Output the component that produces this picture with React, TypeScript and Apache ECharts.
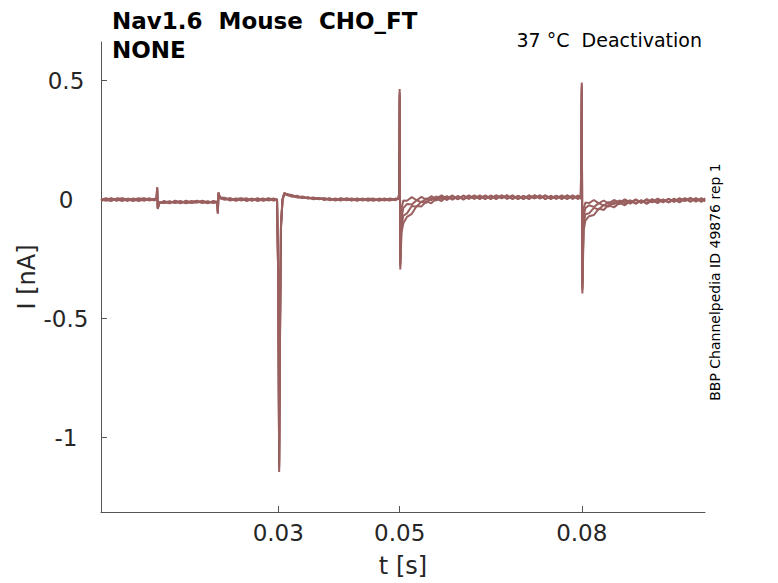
import React, { useEffect, useRef } from "react";
import * as echarts from "echarts";

// sample times in milliseconds (shared by all sweeps)
const timeMs = [
  0.8, 1.6, 2.5, 3.4, 4.3, 5.2, 6.1, 7.0, 7.9, 8.8, 9.6,
  9.95, 10.05, 10.15, 10.4,
  11.2, 12.1, 13.0, 13.9, 14.8, 15.7, 16.6, 17.5, 18.4, 19.3,
  19.95, 20.05, 20.15, 20.4,
  21.2, 22.1, 23.0, 23.9, 24.8, 25.7, 26.6, 27.5, 28.4, 29.3, 29.8,
  30.0, 30.15, 30.3, 30.45, 30.7, 31.0, 31.5,
  32.2, 33.1, 34.0, 34.9, 35.8, 36.7, 37.6, 38.5, 39.4, 40.3, 41.2, 42.1, 43.0, 43.9, 44.8, 45.7, 46.6, 47.5, 48.4, 49.3,
  49.8, 49.9, 50.0, 50.1, 50.3, 50.6,
  51.2, 52.0, 52.8, 53.6, 54.4, 55.2, 56.0, 56.9, 57.8, 58.7, 59.6, 60.5, 61.4, 62.3, 63.2, 64.1, 65.0, 65.9, 66.8, 67.7, 68.6, 69.5, 70.4, 71.3, 72.2, 73.1, 74.0, 74.9, 75.8, 76.7, 77.6, 78.5, 79.4, 79.85,
  80.0, 80.1, 80.3, 80.6,
  81.2, 82.0, 82.8, 83.6, 84.4, 85.3, 86.2, 87.1, 88.0, 88.9, 89.8, 90.7, 91.6, 92.5, 93.4, 94.3, 95.2, 96.1, 97.0, 97.9, 98.8, 99.7, 100.3,
];

// current of each sweep in nA
const sweepA = [
  0.004, -0.005, 0.006, -0.003, 0.002, -0.006, 0.005, -0.002, 0.003, -0.004, 0.002,
  0.002, 0.052, -0.040, -0.016,
  -0.006, -0.014, -0.008, -0.016, -0.005, -0.012, -0.007, -0.015, -0.009, -0.013,
  -0.010, -0.060, 0.030, 0.008,
  0.007, -0.002, 0.005, -0.004, 0.003, -0.005, 0.004, -0.003, 0.006, -0.002, 0.001,
  -0.35, -1.145, -0.55, -0.12, 0.0, 0.028, 0.022,
  0.019, 0.010, 0.013, 0.004, 0.009, 0.001, 0.006, -0.003, 0.005, -0.002, 0.004, -0.004, 0.003, -0.002, 0.005, -0.003, 0.002, -0.004, 0.004, -0.001,
  0.004, 0.026, 0.464, -0.294, -0.140, -0.100,
  -0.073, -0.060, -0.027, -0.029, -0.007, -0.016, 0.003, -0.006, 0.012, 0.001, 0.014, 0.000, 0.015, 0.003, 0.018, 0.004, 0.015, 0.002, 0.017, 0.004, 0.018, 0.003, 0.015, 0.002, 0.017, 0.004, 0.018, 0.005, 0.016, 0.002, 0.017, 0.004, 0.018, 0.003,
  0.492, -0.395, -0.130, -0.088,
  -0.070, -0.065, -0.038, -0.044, -0.023, -0.033, -0.014, -0.024, -0.006, -0.017, -0.004, -0.018, -0.003, -0.015, 0.001, -0.012, 0.000, -0.012, 0.003, -0.009, 0.006, -0.009, 0.004,
];

const sweepB = [
  -0.003, 0.006, -0.004, 0.001, -0.006, 0.004, -0.002, 0.006, -0.005, 0.003, -0.001,
  0.000, 0.048, -0.036, -0.012,
  -0.013, -0.007, -0.015, -0.009, -0.014, -0.006, -0.013, -0.008, -0.016, -0.006,
  -0.012, -0.055, 0.026, 0.006,
  0.002, 0.006, -0.003, 0.004, -0.006, 0.002, -0.002, 0.005, -0.004, 0.003, -0.002,
  -0.33, -1.12, -0.52, -0.11, -0.005, 0.025, 0.020,
  0.013, 0.016, 0.006, 0.010, 0.002, 0.007, -0.002, 0.004, -0.004, 0.003, -0.003, 0.005, -0.002, 0.004, -0.005, 0.002, -0.003, 0.005, -0.002, 0.003,
  0.002, 0.022, 0.440, -0.270, -0.110, -0.068,
  -0.058, -0.027, -0.030, -0.008, -0.014, 0.006, -0.004, 0.011, -0.002, 0.013, 0.001, 0.017, 0.004, 0.015, 0.002, 0.017, 0.004, 0.018, 0.005, 0.017, 0.002, 0.016, 0.003, 0.018, 0.005, 0.017, 0.002, 0.016, 0.003, 0.015, 0.002, 0.017, 0.004, 0.018,
  0.470, -0.370, -0.100, -0.062,
  -0.058, -0.035, -0.042, -0.023, -0.030, -0.010, -0.019, -0.004, -0.017, -0.002, -0.014, 0.002, -0.012, 0.000, -0.012, 0.003, -0.009, 0.005, -0.007, 0.005, -0.009, 0.005, -0.007,
];

const sweepC = [
  0.001, -0.002, -0.006, 0.005, 0.003, 0.001, -0.006, 0.002, 0.006, -0.002, 0.004,
  -0.002, 0.045, -0.038, -0.014,
  -0.010, -0.016, -0.005, -0.012, -0.008, -0.015, -0.011, -0.005, -0.012, -0.009,
  -0.008, -0.052, 0.028, 0.009,
  0.005, -0.004, 0.002, 0.006, -0.002, 0.004, -0.006, 0.001, 0.003, -0.005, 0.002,
  -0.30, -1.10, -0.50, -0.10, 0.002, 0.024, 0.018,
  0.017, 0.012, 0.011, 0.005, 0.006, 0.003, 0.001, 0.005, -0.002, 0.006, 0.000, -0.003, 0.005, -0.004, 0.002, 0.004, -0.005, 0.001, 0.003, -0.003,
  0.005, 0.020, 0.420, -0.250, -0.080, -0.036,
  -0.019, -0.021, -0.003, -0.012, 0.005, -0.003, 0.013, 0.002, 0.014, 0.000, 0.014, 0.003, 0.018, 0.004, 0.014, 0.002, 0.017, 0.005, 0.018, 0.003, 0.016, 0.002, 0.015, 0.004, 0.018, 0.006, 0.017, 0.002, 0.016, 0.005, 0.018, 0.003, 0.015, 0.004,
  0.450, -0.350, -0.070, -0.036,
  -0.024, -0.031, -0.015, -0.026, -0.011, -0.020, -0.004, -0.015, -0.003, -0.017, -0.003, -0.014, 0.002, -0.011, -0.001, -0.012, 0.004, -0.008, 0.006, -0.009, 0.005, -0.009, 0.005,
];

const sweepD = [
  -0.006, 0.002, 0.003, -0.005, 0.006, -0.002, 0.001, -0.006, 0.000, 0.005, -0.004,
  0.001, 0.050, -0.033, -0.010,
  -0.015, -0.009, -0.012, -0.006, -0.016, -0.010, -0.005, -0.013, -0.007, -0.015,
  -0.011, -0.058, 0.024, 0.005,
  -0.001, 0.004, -0.005, 0.001, 0.005, -0.003, 0.006, -0.005, 0.000, 0.004, -0.003,
  -0.34, -1.13, -0.53, -0.115, -0.002, 0.027, 0.021,
  0.014, 0.009, 0.008, 0.009, 0.001, 0.005, 0.004, -0.001, 0.002, -0.004, 0.005, 0.001, -0.005, 0.003, 0.000, -0.005, 0.004, -0.001, -0.004, 0.004,
  0.001, 0.024, 0.450, -0.280, -0.040, -0.004,
  -0.005, 0.010, -0.003, 0.011, -0.001, 0.014, 0.004, 0.018, 0.004, 0.017, 0.002, 0.014, 0.003, 0.018, 0.005, 0.016, 0.002, 0.017, 0.006, 0.018, 0.004, 0.015, 0.002, 0.017, 0.005, 0.018, 0.003, 0.014, 0.004, 0.018, 0.005, 0.017, 0.002, 0.016,
  0.480, -0.380, -0.040, -0.012,
  -0.015, -0.002, -0.016, -0.004, -0.016, -0.002, -0.012, 0.001, -0.012, 0.001, -0.013, -0.001, -0.011, 0.004, -0.008, 0.003, -0.010, 0.005, -0.005, 0.007, -0.006, 0.005, -0.008,
];

const xTicks = [0.03, 0.05, 0.08];
const yTicks = [-1, -0.5, 0, 0.5];

const titleLines = ["Nav1.6  Mouse  CHO_FT", "NONE"];
const conditionText = "37 °C  Deactivation";
const sourceText = "BBP Channelpedia ID 49876 rep 1";

const FONT = "DejaVu Sans";
const TRACE_COLOR = "#9a5f5f";
const AXIS_COLOR = "#555555";
const TEXT_COLOR = "#262626";

export default function App() {
  const ref = useRef<HTMLDivElement>(null);

  useEffect(() => {
    if (!ref.current) return;
    const chart = echarts.init(ref.current, null, { renderer: "svg" });
    const sweeps = [sweepA, sweepB, sweepC, sweepD];
    const series = sweeps.map((sw, i) => ({
      type: "line",
      name: "sweep " + (i + 1),
      data: timeMs.slice(0, sw.length).map((t, j) => [t / 1000, sw[j]]),
      showSymbol: false,
      symbol: "none",
      silent: true,
      lineStyle: { width: 2, color: TRACE_COLOR },
      itemStyle: { color: TRACE_COLOR },
    }));

    chart.setOption({
      animation: false,
      backgroundColor: "#ffffff",
      title: {
        text: titleLines.join("\n"),
        left: 112,
        top: 6,
        padding: 0,
        textStyle: {
          fontFamily: FONT,
          fontSize: 23,
          fontWeight: "bold",
          color: "#000000",
          lineHeight: 29,
        },
      },
      grid: { left: 101, right: 73, top: 42, bottom: 71 },
      xAxis: {
        type: "value",
        min: 0.0008,
        max: 0.1003,
        name: "t [s]",
        nameLocation: "middle",
        nameGap: 42,
        nameMoveOverlap: false,
        nameTextStyle: { fontFamily: FONT, fontSize: 24, color: TEXT_COLOR },
        axisLine: { show: true, onZero: false, lineStyle: { color: AXIS_COLOR, width: 1 } },
        axisTick: {
          show: true,
          inside: true,
          length: 6,
          customValues: xTicks,
          lineStyle: { color: AXIS_COLOR },
        },
        axisLabel: {
          customValues: xTicks,
          fontFamily: FONT,
          fontSize: 23,
          color: TEXT_COLOR,
          margin: 9,
        },
        splitLine: { show: false },
      },
      yAxis: {
        type: "value",
        min: -1.313,
        max: 0.662,
        name: "I [nA]",
        nameLocation: "middle",
        nameGap: 62,
        nameRotate: 90,
        nameMoveOverlap: false,
        nameTextStyle: { fontFamily: FONT, fontSize: 24, color: TEXT_COLOR },
        axisLine: { show: true, onZero: false, lineStyle: { color: AXIS_COLOR, width: 1 } },
        axisTick: {
          show: true,
          inside: true,
          length: 6,
          customValues: yTicks,
          lineStyle: { color: AXIS_COLOR },
        },
        axisLabel: {
          customValues: yTicks,
          fontFamily: FONT,
          fontSize: 23,
          color: TEXT_COLOR,
          align: "center",
          margin: 35,
        },
        splitLine: { show: false },
      },
      graphic: [
        {
          type: "text",
          x: 702,
          y: 40,
          style: {
            text: conditionText,
            fontFamily: FONT,
            fontSize: 19,
            fill: "#000000",
            textAlign: "right",
            textVerticalAlign: "middle",
          },
        },
        {
          type: "text",
          x: 715,
          y: 282,
          rotation: Math.PI / 2,
          style: {
            text: sourceText,
            fontFamily: FONT,
            fontSize: 14,
            fill: "#000000",
            textAlign: "center",
            textVerticalAlign: "middle",
          },
        },
      ],
      series,
    });

    return () => chart.dispose();
  }, []);

  return (
    <div
      ref={ref}
      style={{ position: "fixed", left: 0, top: 0, width: 778, height: 583 }}
    />
  );
}
